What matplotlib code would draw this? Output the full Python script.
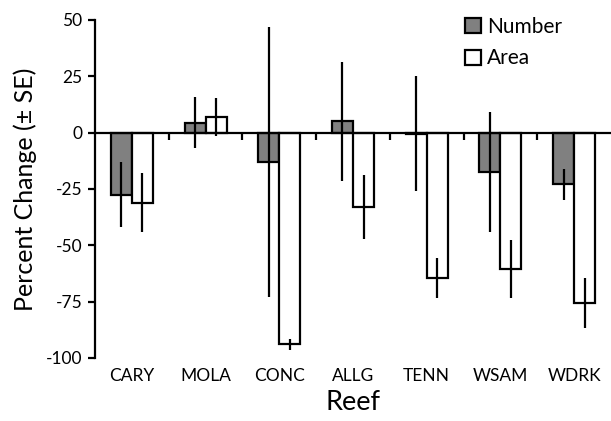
import numpy as np
import matplotlib.pyplot as plt

reefs = ["CARY", "MOLA", "CONC", "ALLG", "TENN", "WSAM", "WDRK"]
number_mean = [-27.5, 4.5, -13.0, 5.0, -0.5, -17.5, -23.0]
number_se = [14.5, 11.5, 60.0, 26.5, 25.5, 26.5, 6.7]
area_mean = [-31.0, 7.0, -94.0, -33.0, -64.5, -60.5, -75.5]
area_se = [13.0, 8.5, 2.5, 14.0, 9.0, 13.0, 11.0]

yticks = [-100, -75, -50, -25, 0, 25, 50]

plt.rcParams["font.family"] = ["Lato", "DejaVu Sans"]

fig = plt.figure(figsize=(6.11, 4.21), dpi=100)
ax = fig.add_axes([95 / 611, 1 - 358 / 421, 1 - 95 / 611, 338 / 421])

x = np.arange(len(reefs))
w = 0.285
lw = 1.6
err_kw = dict(ecolor="black", elinewidth=lw, capsize=0)

ax.bar(x - w / 2, number_mean, w, color="#808080", edgecolor="black",
       linewidth=lw, label="Number", yerr=number_se, error_kw=err_kw, zorder=2)
ax.bar(x + w / 2, area_mean, w, color="white", edgecolor="black",
       linewidth=lw, label="Area", yerr=area_se, error_kw=err_kw, zorder=2)

ax.set_xlim(-0.5, len(reefs) - 0.5)
ax.set_ylim(-100, 50)

# zero line acts as x axis, with ticks between reefs
ax.spines["bottom"].set_position(("data", 0))
ax.spines["bottom"].set_zorder(3)
ax.spines["top"].set_visible(False)
ax.spines["right"].set_visible(False)
for s in ["left", "bottom"]:
    ax.spines[s].set_linewidth(lw)

ax.set_xticks(x[:-1] + 0.5)
ax.set_xticklabels([])
ax.tick_params(axis="x", direction="out", length=5, width=lw)

ax.set_yticks(yticks)
ax.set_yticklabels([str(t) for t in yticks])
ax.tick_params(axis="y", direction="out", length=5, width=lw, labelsize=12.5, pad=4)

for i, name in enumerate(reefs):
    ax.text(i, -0.053, name, transform=ax.get_xaxis_transform(),
            ha="center", va="center", fontsize=12.5)

fig.text(353 / 611, 1 - 402 / 421, "Reef", ha="center", va="center", fontsize=19.5)
fig.text(25 / 611, 1 - 189 / 421, "Percent Change (\u00b1 SE)", ha="center",
         va="center", rotation=90, fontsize=18)

ax.legend(loc="upper left", bbox_to_anchor=(465 / 611, 1 - 17 / 421),
          bbox_transform=fig.transFigure, frameon=False, fontsize=15,
          handlelength=0.75, handleheight=0.75, handletextpad=0.3,
          labelspacing=0.55, borderpad=0, borderaxespad=0)

fig.savefig("out.png", dpi=100)
